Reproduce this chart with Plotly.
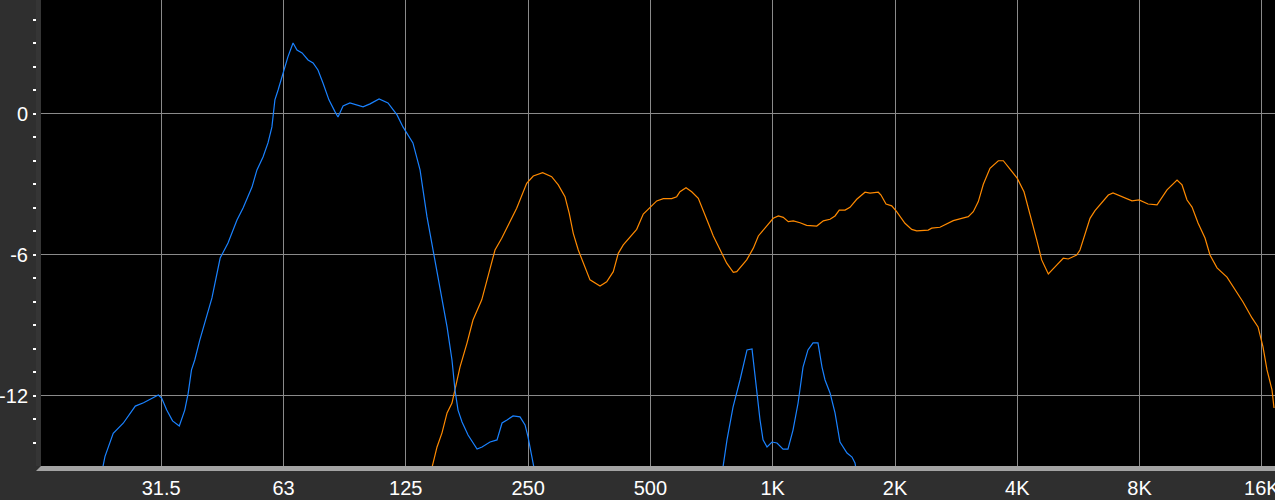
import plotly.graph_objects as go

# ---- data (frequency in Hz, level in dB) ----
blue_freq = [22.1, 22.6, 22.9, 24.0, 25.4, 27.2, 28.5, 30.1, 31.0, 31.6, 32.5, 33.6, 34.9, 36.0, 36.7, 37.4, 38.1,
             39.2, 40.4, 42.0, 44.0, 46.0, 48.4, 50.1, 52.7, 54.2, 56.1, 57.7, 59.0, 60.0, 61.1, 62.5, 64.6, 66.5,
             68.0, 70.0, 72.4, 74.5, 76.6, 78.8, 81.5, 84.4, 85.8, 88.3, 91.8, 98.9, 102.9, 108.3, 113.9, 119.9,
             124.0, 131.2, 136.6, 142.1, 147.9, 154.7, 159.2, 163.7, 166.5, 169.4, 173.3, 179.3, 188.7, 194.1,
             203.1, 211.3, 217.4, 223.6, 231.4, 240.7, 247.7, 251.9, 257.6, 260.6, 265.0,
             None,
             747.8, 760.6, 778.0, 805.0, 837.5, 871.4, 896.5, 912.0, 938.1, 954.3, 976.1, 1004, 1033, 1069, 1099,
             1131, 1164, 1197, 1231, 1267, 1303, 1333, 1356, 1395, 1435, 1476, 1536, 1580, 1607, 1635]
blue_db = [-15.57, -15.08, -14.58, -13.59, -13.16, -12.43, -12.29, -12.07, -11.96, -12.10, -12.60, -13.06, -13.28,
           -12.60, -11.89, -10.89, -10.47, -9.62, -8.85, -7.83, -6.13, -5.49, -4.51, -4.00, -3.11, -2.38, -1.83,
           -1.23, -0.55, 0.60, 1.02, 1.57, 2.43, 3.02, 2.72, 2.60, 2.30, 2.17, 1.87, 1.32, 0.60, 0.09, -0.13, 0.34,
           0.47, 0.30, 0.43, 0.64, 0.47, -0.04, -0.55, -1.23, -2.38, -4.38, -6.00, -7.91, -9.06, -10.47, -11.74,
           -12.60, -13.11, -13.66, -14.26, -14.17, -13.96, -13.87, -13.15, -13.02, -12.85, -12.89, -13.23, -13.74,
           -14.72, -15.06, -15.57,
           None,
           -15.57, -15.02, -13.87, -12.47, -11.32, -10.04, -10.00, -11.19, -13.02, -13.87, -14.17, -13.96, -14.00,
           -14.26, -14.26, -13.45, -12.30, -10.77, -10.04, -9.74, -9.74, -10.77, -11.32, -11.87, -12.72, -13.96,
           -14.43, -14.60, -14.85, -15.57]

orange_freq = [143.7, 146.2, 150.4, 154.7, 159.2, 163.7, 166.5, 171.3, 178.3, 184.4, 193.8, 200.8, 208.9, 217.0,
               236.2, 250.0, 259.5, 273.7, 288.0, 299.0, 310.6, 318.2, 325.5, 334.9, 347.9, 357.9, 378.8, 393.4,
               408.4, 420.1, 432.2, 448.9, 466.3, 484.1, 502.8, 522.4, 542.3, 568.6, 585.0, 596.0, 616.7, 636.9,
               661.2, 680.2, 699.8, 719.9, 747.8, 776.7, 806.3, 822.1, 869.9, 903.2, 929.2, 974.5, 1011, 1041, 1070,
               1101, 1133, 1177, 1222, 1294, 1343, 1395, 1435, 1470, 1519, 1562, 1623, 1701, 1750, 1834, 1862, 1916,
               1979, 2035, 2133, 2216, 2280, 2434, 2482, 2601, 2702, 2805, 2942, 3054, 3142, 3233, 3326, 3454, 3621,
               3725, 3869, 4032, 4188, 4375, 4501, 4630, 4807, 5040, 5232, 5383, 5645, 5752, 5919, 6089, 6262, 6505,
               6754, 6936, 7340, 7724, 8039, 8458, 8902, 9419, 9970, 10256, 10550, 10855, 11230, 11683, 12017,
               12506, 13233, 13847, 14490, 15249, 15778, 16229, 16601, 17079, 17275]
orange_db = [-15.57, -15.02, -14.17, -13.57, -12.72, -12.30, -11.74, -10.77, -9.74, -8.77, -7.91, -6.85, -5.79,
             -5.29, -4.01, -2.95, -2.64, -2.50, -2.67, -3.02, -3.52, -4.23, -5.08, -5.79, -6.57, -7.06, -7.32,
             -7.14, -6.71, -5.93, -5.57, -5.25, -4.91, -4.26, -3.97, -3.70, -3.60, -3.60, -3.52, -3.31, -3.14,
             -3.31, -3.59, -4.09, -4.65, -5.19, -5.79, -6.35, -6.74, -6.71, -6.21, -5.71, -5.19, -4.77, -4.44,
             -4.34, -4.40, -4.58, -4.55, -4.63, -4.74, -4.77, -4.55, -4.48, -4.34, -4.09, -4.09, -3.97, -3.63,
             -3.33, -3.37, -3.33, -3.45, -3.83, -3.91, -4.16, -4.65, -4.91, -4.97, -4.94, -4.86, -4.82, -4.68,
             -4.54, -4.44, -4.37, -4.16, -3.73, -2.99, -2.31, -1.99, -1.99, -2.35, -2.74, -3.31, -4.51, -5.36,
             -6.21, -6.81, -6.43, -6.14, -6.17, -6.00, -5.79, -5.08, -4.44, -4.11, -3.80, -3.45, -3.36, -3.53,
             -3.70, -3.66, -3.83, -3.87, -3.23, -2.81, -3.02, -3.66, -3.96, -4.64, -5.28, -6.00, -6.55, -6.94,
             -7.49, -8.00, -8.68, -9.06, -9.91, -10.89, -11.74, -12.51]

x_tickvals = [31.5, 63, 126, 252, 504, 1008, 2016, 4032, 8064, 16128]
x_ticktext = ["31.5", "63", "125", "250", "500", "1K", "2K", "4K", "8K", "16K"]
y_tickvals = [-12, -6, 0]
y_ticktext = ["-12", "-6", "0"]

W, H = 1275, 500
ML, MB = 36, 34
strip = 5  # px of the dark left bezel

fig = go.Figure()
fig.add_trace(go.Scatter(x=orange_freq, y=orange_db, mode="lines",
                         line=dict(color="#ff8a00", width=1.2), connectgaps=False, hoverinfo="skip"))
fig.add_trace(go.Scatter(x=blue_freq, y=blue_db, mode="lines",
                         line=dict(color="#1a82ff", width=1.2), connectgaps=False, hoverinfo="skip"))

plot_w = W - ML
plot_h = H - MB
fx = strip / plot_w
bar_h = 5 / plot_h

fig.update_layout(
    width=W, height=H,
    margin=dict(l=ML, r=0, t=0, b=MB, pad=0, autoexpand=False),
    paper_bgcolor="#2f2f2f",
    plot_bgcolor="#000000",
    showlegend=False,
    hovermode=False,
    font=dict(family="Liberation Sans, Arial, sans-serif", color="white", size=20),
    xaxis=dict(
        type="log", domain=[fx, 1],
        range=[1.20246, 4.23982],
        tickmode="array", tickvals=x_tickvals, ticktext=x_ticktext,
        showgrid=True, gridcolor="#8a8a8a", gridwidth=1,
        ticks="", showline=False, zeroline=False,
        tickfont=dict(size=20, color="white"),
        ticklabelstandoff=8, ticklabeloverflow="allow",
        automargin=False,
    ),
    yaxis=dict(
        range=[-14.98, 4.85],
        anchor="free", position=0,
        tickmode="array", tickvals=y_tickvals, ticktext=y_ticktext,
        showgrid=True, gridcolor="#8a8a8a", gridwidth=1,
        zeroline=False, showline=False,
        ticks="outside", ticklen=3, tickwidth=2, tickcolor="white",
        tickfont=dict(size=20, color="white"),
        minor=dict(tickmode="linear", dtick=1, tick0=0, ticks="outside", ticklen=3, tickwidth=2,
                   tickcolor="white", showgrid=False),
        ticklabelstandoff=1, ticklabeloverflow="allow",
        automargin=False,
    ),
    shapes=[
        dict(type="rect", xref="paper", yref="paper", x0=0, x1=fx, y0=0, y1=1,
             fillcolor="#353535", line=dict(width=0), layer="above"),
        dict(type="path", xref="paper", yref="paper",
             path=f"M 0,{-bar_h} L 1,{-bar_h} L 1,0 L {fx},0 Z",
             fillcolor="#a3a3a3", line=dict(width=0), layer="above"),
    ],
)

fig.write_html(
    "out.html",
    config={"displayModeBar": False, "staticPlot": True},
    post_script="document.body.style.margin='0';document.body.style.padding='0';"
                "document.body.style.overflow='hidden';",
)
